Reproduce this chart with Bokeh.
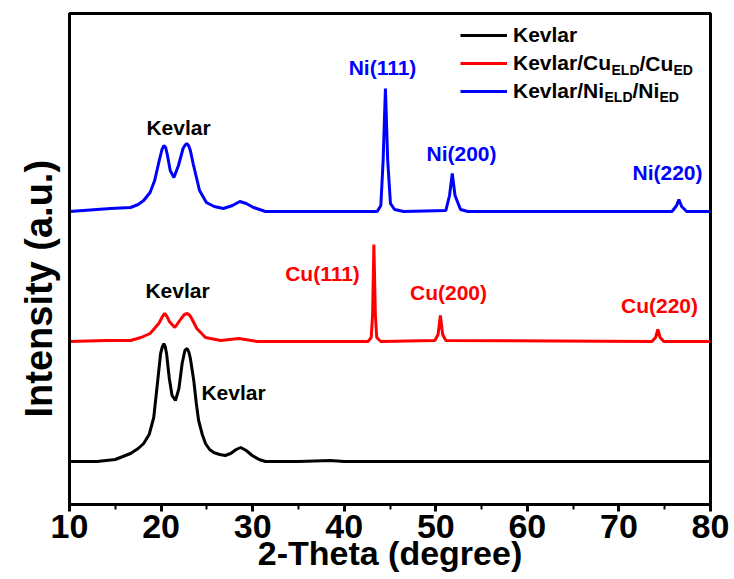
from bokeh.plotting import figure
from bokeh.models import (Range1d, SingleIntervalTicker, FixedTicker, Legend, LegendItem, Label, Title)
from bokeh.embed import file_html
from bokeh.resources import INLINE

# ---------------- data ----------------
kevlar_x = [10, 13, 15, 16.66, 17.5, 18.1, 18.7, 19.2, 19.6, 19.95, 20.15, 20.3, 20.45, 20.6,
            20.9, 21.2, 21.57, 21.95, 22.3, 22.6, 22.85, 23.05, 23.2, 23.57, 23.85, 24.1, 24.5,
            24.85, 25.3, 25.75, 26.4, 27.0, 27.6, 28.2, 28.7, 29.3, 29.95, 30.7, 31.4, 35, 38.5,
            40, 50, 60, 70, 80]
kevlar_y = [43, 43, 45, 51, 56, 61, 70, 87, 121, 151, 158, 161, 158, 151,
            126, 109, 104, 116, 141, 154, 156, 152, 146, 124, 101, 84, 70,
            61, 55, 52, 50, 49, 51, 55, 57, 54, 49, 45, 43, 43, 44,
            43, 43, 43, 43, 43]

cu_x = [10, 14, 16.66, 17.8, 18.8, 19.75, 20.15, 20.4, 20.65, 20.9, 21.5, 22.2, 22.55, 22.85,
        23.15, 23.4, 23.9, 24.85, 26.5, 28.5, 30.5, 42.6, 42.95, 43.1, 43.24, 43.4, 43.55,
        44.0, 49.9, 50.25, 50.5, 50.75, 51.1, 73.6, 74.0, 74.25, 74.5, 74.9, 80]
cu_y = [163, 164, 164, 167, 171, 181, 188, 191, 188, 183, 177, 186, 190, 191,
        189, 185, 176, 167, 164, 166, 163, 163, 167, 190, 260, 190, 167,
        163, 164, 170, 189, 170, 164, 163, 167, 175, 167, 163, 163]

ni_x = [10, 14.5, 16.66, 17.5, 18.1, 18.8, 19.3, 19.8, 20.1, 20.3, 20.5, 20.7, 21.0, 21.4,
        21.9, 22.4, 22.6, 22.8, 23.0, 23.2, 23.5, 24.2, 24.95, 25.8, 26.8, 27.8, 28.6, 29.3,
        30.1, 31.4, 43.6, 44.0, 44.25, 44.5, 44.75, 45.05, 45.5, 46.5, 51.1, 51.5, 51.8,
        52.1, 52.7, 53.5, 75.8, 76.3, 76.55, 76.85, 77.4, 80]
ni_y = [293, 296, 297, 300, 304, 312, 324, 344, 355, 359, 357, 349, 334, 327,
        339, 356, 359, 361, 359, 354, 341, 314, 302, 298, 296, 299, 303, 301,
        297, 293, 293, 299, 344, 416, 344, 301, 295, 293, 294, 309, 331,
        309, 295, 293, 293, 299, 305, 298, 293, 293]

x_ticks = [10, 20, 30, 40, 50, 60, 70, 80]

BLACK = "#000000"
RED = "#FF0000"
BLUE = "#0000FF"
FONT = "Liberation Sans"

# frame geometry helpers (positions only)
FL, FR, FT, FB = 69, 710, 13, 504
def dx(px):
    return 10 + (px - FL) * 70.0 / (FR - FL)
def dy(py):
    return FB - py

p = figure(width=734, height=579, output_backend="svg", toolbar_location=None,
           x_range=Range1d(10, 80), y_range=Range1d(0, FB - FT),
           min_border_left=FL, min_border_right=734 - FR, min_border_top=FT,
           min_border_bottom=579 - FB)
p.background_fill_color = "white"
p.border_fill_color = "white"
p.grid.visible = False
p.outline_line_color = "black"
p.outline_line_width = 3

r_k = p.line(kevlar_x, kevlar_y, line_color=BLACK, line_width=3)
r_c = p.line(cu_x, cu_y, line_color=RED, line_width=3)
r_n = p.line(ni_x, ni_y, line_color=BLUE, line_width=3)

# x axis
xa = p.xaxis[0]
xa.ticker = SingleIntervalTicker(interval=10, num_minor_ticks=2)
xa.axis_label = "2-Theta (degree)"
xa.axis_label_text_font = FONT
xa.axis_label_text_font_style = "bold"
xa.axis_label_text_font_size = "34px"
xa.axis_label_text_color = "black"
xa.axis_label_standoff = -7
xa.major_label_text_font = FONT
xa.major_label_text_font_style = "bold"
xa.major_label_text_font_size = "34px"
xa.major_label_text_color = "black"
xa.major_label_standoff = 3
xa.axis_line_width = 3
xa.major_tick_line_width = 3
xa.minor_tick_line_width = 2
xa.major_tick_in = 0
xa.major_tick_out = 7
xa.minor_tick_in = 0
xa.minor_tick_out = 5

# y axis (no ticks / labels)
ya = p.yaxis[0]
ya.ticker = FixedTicker(ticks=[])
ya.axis_line_width = 3
ya.major_tick_out = 0
ya.major_tick_in = 0
ya.minor_tick_out = 0
ya.minor_tick_in = 0
ya.major_label_standoff = 0

p.add_layout(Title(text="Intensity (a.u.)", align="left", offset=87, standoff=20,
                   text_font=FONT, text_font_style="bold", text_font_size="38px",
                   text_color="black"), "left")

# peak labels
def lab(px, py, text, color, size="21px"):
    p.add_layout(Label(x=dx(px), y=dy(py), text=text, text_align="center",
                       text_baseline="middle", text_font=FONT, text_font_style="bold",
                       text_font_size=size, text_color=color))

lab(178, 127, "Kevlar", BLACK)
lab(177, 290, "Kevlar", BLACK)
lab(233, 392, "Kevlar", BLACK)
lab(382, 67, "Ni(111)", BLUE)
lab(461, 153, "Ni(200)", BLUE)
lab(667, 172, "Ni(220)", BLUE)
lab(322, 273, "Cu(111)", RED)
lab(448, 292, "Cu(200)", RED)
lab(659, 305, "Cu(220)", RED)

# legend
legend = Legend(items=[LegendItem(label="Kevlar", renderers=[r_k]),
                       LegendItem(label="Kevlar/Cu", renderers=[r_c]),
                       LegendItem(label="Kevlar/Ni", renderers=[r_n])],
                location=(460 - FL, FB - 104), orientation="vertical",
                glyph_width=47, glyph_height=26, label_height=26, spacing=2,
                label_standoff=6, padding=0, margin=0,
                border_line_color=None, background_fill_alpha=0,
                label_text_font=FONT, label_text_font_style="bold",
                label_text_font_size="21px", label_text_color="black")
p.add_layout(legend)

def leg_txt(px, py, text, size):
    p.add_layout(Label(x=dx(px), y=dy(py), text=text, text_align="left",
                       text_baseline="middle", text_font=FONT, text_font_style="bold",
                       text_font_size=size, text_color="black"))

leg_txt(611, 69, "ELD", "14px")
leg_txt(639, 63, "/Cu", "21px")
leg_txt(673, 69, "ED", "14px")
leg_txt(604, 96, "ELD", "14px")
leg_txt(632, 90, "/Ni", "21px")
leg_txt(659, 96, "ED", "14px")

open("out.html", "w").write(file_html(p, INLINE))
